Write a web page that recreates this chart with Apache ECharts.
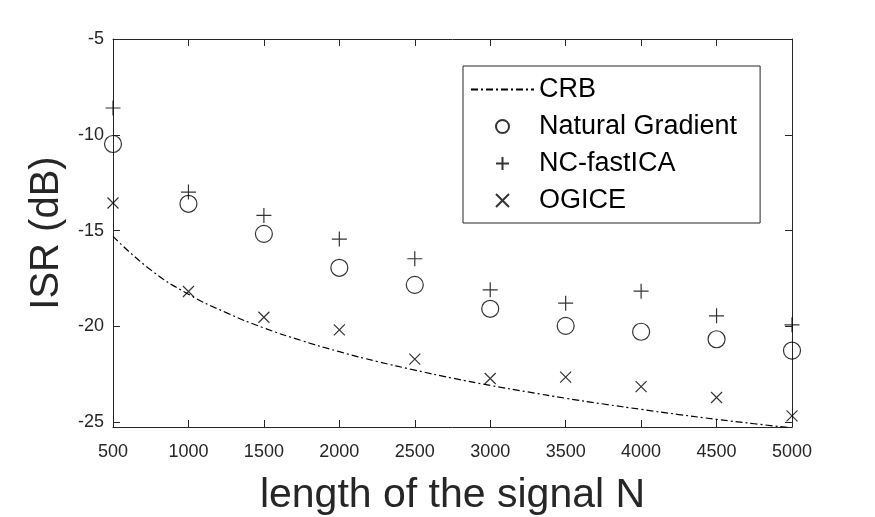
<!DOCTYPE html>
<html>
<head>
<meta charset="utf-8">
<script src="https://cdn.jsdelivr.net/npm/echarts@6/dist/echarts.min.js"></script>
<style>
  html, body { margin: 0; padding: 0; background: #fff; }
  #chart { width: 875px; height: 517px; }
</style>
</head>
<body>
<div id="chart"></div>
<script>
// signal length N
const lengthN = [500, 1000, 1500, 2000, 2500, 3000, 3500, 4000, 4500, 5000];
// ISR (dB)
const naturalGradient = [-10.48, -13.6, -15.17, -16.94, -17.83, -19.08, -19.97, -20.28, -20.67, -21.26];
const ncFastICA = [-8.6, -12.99, -14.21, -15.44, -16.47, -18.09, -18.79, -18.16, -19.45, -19.92];
const ogice = [-13.56, -18.18, -19.52, -20.18, -21.71, -22.72, -22.65, -23.14, -23.71, -24.67];
// CRB curve, sampled
const crbN = [500, 750, 1000, 1250, 1500, 1750, 2000, 2250, 2500, 2750, 3000, 3250, 3500, 3750, 4000, 4250, 4500, 4750, 5000];
const crbValues = [-15.3, -17.05, -18.32, -19.28, -20.08, -20.74, -21.32, -21.83, -22.28, -22.7, -23.08, -23.42, -23.75, -24.05, -24.33, -24.6, -24.85, -25.08, -25.3];
const yTicks = [-25, -20, -15, -10, -5];

const axisColor = "#262626";
const font = "Liberation Sans, Arial, Helvetica, sans-serif";

const plusPath = "path://M0,7L14,7M7,0L7,14";
const crossPath = "path://M0,0L10,10M0,10L10,0";

function zip(xs, ys) {
  return xs.map((x, i) => [x, ys[i]]);
}

const xBase = {
  type: "value",
  min: 500,
  max: 5000,
  interval: 500,
  splitLine: { show: false },
  axisLine: { show: true, lineStyle: { color: axisColor, width: 1 } },
  axisTick: { show: true, inside: true, length: 7, lineStyle: { color: axisColor } },
};
const yBase = {
  type: "value",
  min: -25.25,
  max: -5,
  splitLine: { show: false },
  axisLine: { show: true, lineStyle: { color: axisColor, width: 1 } },
  axisTick: { show: true, inside: true, length: 7, customValues: yTicks, lineStyle: { color: axisColor } },
};

var myChart = echarts.init(document.getElementById("chart"));
myChart.setOption({
  animation: false,
  backgroundColor: "#fff",
  grid: { left: 113, right: 83, top: 39, bottom: 90, containLabel: false, outerBoundsMode: "none" },
  xAxis: [
    Object.assign({}, xBase, {
      position: "bottom",
      name: "length of the signal N",
      nameLocation: "middle",
      nameGap: 48,
      nameTextStyle: { fontSize: 41, color: axisColor, fontFamily: font },
      axisLabel: { fontSize: 18, color: axisColor, fontFamily: font, margin: 16, formatter: (v) => String(v) },
    }),
    Object.assign({}, xBase, { position: "top", axisLabel: { show: false } }),
  ],
  yAxis: [
    Object.assign({}, yBase, {
      position: "left",
      name: "ISR (dB)",
      nameLocation: "middle",
      nameGap: 44,
      nameTextStyle: { fontSize: 40, color: axisColor, fontFamily: font },
      axisLabel: { fontSize: 18, color: axisColor, fontFamily: font, margin: 9, customValues: yTicks },
    }),
    Object.assign({}, yBase, { position: "right", axisLabel: { show: false } }),
  ],
  legend: {
    orient: "vertical",
    left: 463,
    top: 66,
    padding: [10, 23, 9, 7],
    itemWidth: 63,
    itemHeight: 13,
    itemGap: 10,
    borderColor: axisColor,
    borderWidth: 1,
    backgroundColor: "#fff",
    textStyle: { fontSize: 27, color: "#000", fontFamily: font, lineHeight: 27 },
    data: [
      { name: "CRB", itemStyle: { opacity: 0 } },
      "Natural Gradient",
      "NC-fastICA",
      "OGICE",
    ],
  },
  series: [
    {
      name: "CRB",
      type: "line",
      smooth: true,
      symbol: "none",
      data: zip(crbN, crbValues),
      lineStyle: { color: "#000", width: 1.2, type: [7, 3, 2, 3] },
      itemStyle: { color: "#000" },
      z: 1,
    },
    {
      name: "Natural Gradient",
      type: "scatter",
      symbol: "circle",
      symbolSize: 17,
      data: zip(lengthN, naturalGradient),
      itemStyle: { color: "none", borderColor: "#000", borderWidth: 1.2 },
    },
    {
      name: "NC-fastICA",
      type: "scatter",
      symbol: plusPath,
      symbolSize: 15,
      data: zip(lengthN, ncFastICA),
      itemStyle: { color: "none", borderColor: "#000", borderWidth: 1.2 },
    },
    {
      name: "OGICE",
      type: "scatter",
      symbol: crossPath,
      symbolSize: 11,
      data: zip(lengthN, ogice),
      itemStyle: { color: "none", borderColor: "#000", borderWidth: 1.2 },
    },
  ],
});
</script>
</body>
</html>
